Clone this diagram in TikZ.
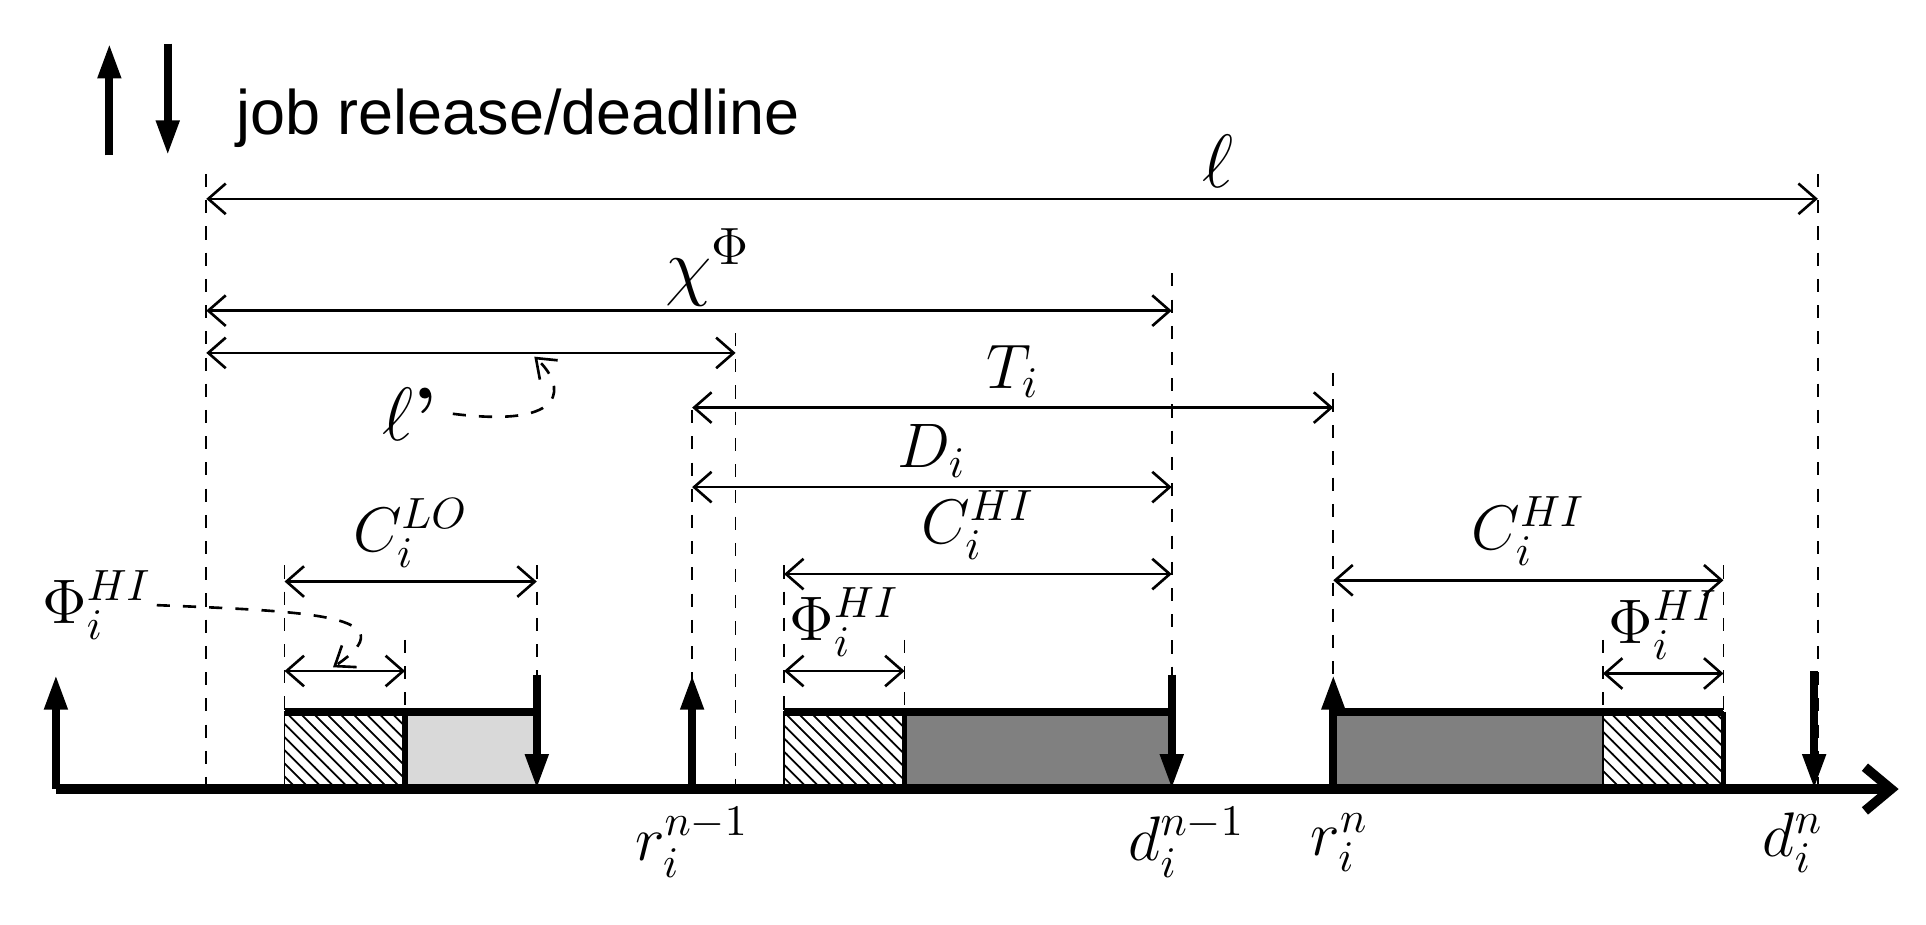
\documentclass[tikz,border=0pt]{standalone}
\usepackage{amssymb,amsfonts}
\usepackage{fontspec}
\setsansfont{Liberation Sans}
\usepackage{tikz}
\usetikzlibrary{arrows.meta,patterns}

\begin{document}
\begin{tikzpicture}[x=0.01cm,y=-0.01cm,
  guide/.style={dashed,thin},
  span/.style={{Straight Barb[length=4pt,width=7pt]}-{Straight Barb[length=4pt,width=7pt]},semithick},
  job/.style={-{Triangle[length=8pt,width=5pt]},line width=1.8pt},
  lbl/.style={font=\Large,inner sep=1pt}]
  \useasboundingbox (0,0) rectangle (1550,744);
  % legend
  \draw[job] (88,125) -- (88,35);
  \draw[job] (135,35) -- (135,125);
  \node[anchor=west,font=\sffamily\Large] (legend) at (178,95) {job release/deadline};
  % guide lines
  \foreach \x/\top/\bot in {166/140/635,229/455/640,326/515/635,432/455/575,557/330/635,
      592/268/635,631/455/635,728/515/575,943/220/635,1073/300/635,1290/515/575,1387/455/635,1463/140/635}
    \draw[guide] (\x,\top) -- (\x,\bot);
  % execution blocks
  \draw[pattern=north west lines] (229,573) rectangle (326,635);
  \fill[black!15] (326,573) rectangle (432,635);
  \draw[pattern=north west lines] (631,573) rectangle (728,635);
  \fill[black!50] (728,573) rectangle (943,635);
  \fill[black!50] (1073,573) rectangle (1290,635);
  \draw[pattern=north west lines] (1290,573) rectangle (1387,635);
  \foreach \a/\b in {229/432,631/943,1073/1387}
    \draw[line width=1.8pt] (\a,573) -- (\b,573);
  \draw[line width=1.2pt] (326,573) -- (326,635) (1387,573) -- (1387,635) (728,573) -- (728,635);
  % time axis
  \coordinate (o) at (45,635);
  \coordinate (end) at (1528,635);
  \draw[line width=2.2pt,-{Straight Barb[length=6pt,width=10pt]}] (o) -- (end);
  % releases and deadlines
  \draw[job] (45,635) -- (45,543);
  \draw[job] (557,635) -- (557,543);
  \draw[job] (1073,635) -- (1073,543);
  \draw[job] (432,543) -- (432,635);
  \draw[job] (943,543) -- (943,635);
  \draw[job] (1460,540) -- (1460,635);
  \node[lbl] (r1) at (557,678) {$r_i^{n-1}$};
  \node[lbl] (d1) at (955,678) {$d_i^{n-1}$};
  \node[lbl] (r2) at (1078,678) {$r_i^{n}$};
  \node[lbl] (d2) at (1443,678) {$d_i^{n}$};
  % spans
  \coordinate (l0) at (166,160);  \coordinate (l1) at (1463,160);
  \draw[span] (l0) -- (l1);
  \node[font=\LARGE] (ell) at (980,130) {$\ell$};
  \coordinate (x0) at (166,250);  \coordinate (x1) at (943,250);
  \node[font=\LARGE] (chi) at (570,215) {$\chi^{\Phi}$};
  \draw[span] (x0) -- (x1);
  \coordinate (p0) at (166,284);  \coordinate (p1) at (592,284);
  \draw[span] (p0) -- (p1);
  \node[font=\LARGE] (ellp) at (330,333) {$\ell$\textbf{'}};
  \draw[dashed,semithick,-{Straight Barb[length=4pt,width=6pt]}] (ellp.east) .. controls (460,345) and (455,310) .. (430,287);
  \coordinate (t0) at (557,328);  \coordinate (t1) at (1073,328);
  \draw[span] (t0) -- (t1) node[lbl,midway,above=1pt] (T) {$T_i$};
  \coordinate (dd0) at (557,392);  \coordinate (dd1) at (943,392);
  \draw[span] (dd0) -- (dd1) node[lbl,midway,above=1pt] (D) {$D_i$};
  \coordinate (c0) at (229,468);  \coordinate (c1) at (432,468);
  \draw[span] (c0) -- (c1) node[lbl,midway,above=2pt] (clo) {$C_i^{LO}$};
  \coordinate (c2) at (631,462);  \coordinate (c3) at (943,462);
  \draw[span] (c2) -- (c3) node[lbl,midway,above=2pt] (chi1) {$C_i^{HI}$};
  \coordinate (c4) at (1073,467);  \coordinate (c5) at (1387,467);
  \draw[span] (c4) -- (c5) node[lbl,midway,above=2pt] (chi2) {$C_i^{HI}$};
  \coordinate (f0) at (229,540);  \coordinate (f1) at (326,540);
  \draw[span] (f0) -- (f1);
  \coordinate (f2) at (631,540);  \coordinate (f3) at (728,540);
  \draw[span] (f2) -- (f3) node[lbl,midway,above=2pt] (phi1) {$\Phi_i^{HI}$};
  \coordinate (f4) at (1290,542); \coordinate (f5) at (1387,542);
  \draw[span] (f4) -- (f5) node[lbl,midway,above=2pt] (phi2) {$\Phi_i^{HI}$};
  \node[lbl] (phi0) at (78,487) {$\Phi_i^{HI}$};
  \draw[dashed,semithick,-{Straight Barb[length=4pt,width=6pt]}] (phi0.east) .. controls (250,492) and (330,495) .. (268,537);
\end{tikzpicture}
\end{document}
